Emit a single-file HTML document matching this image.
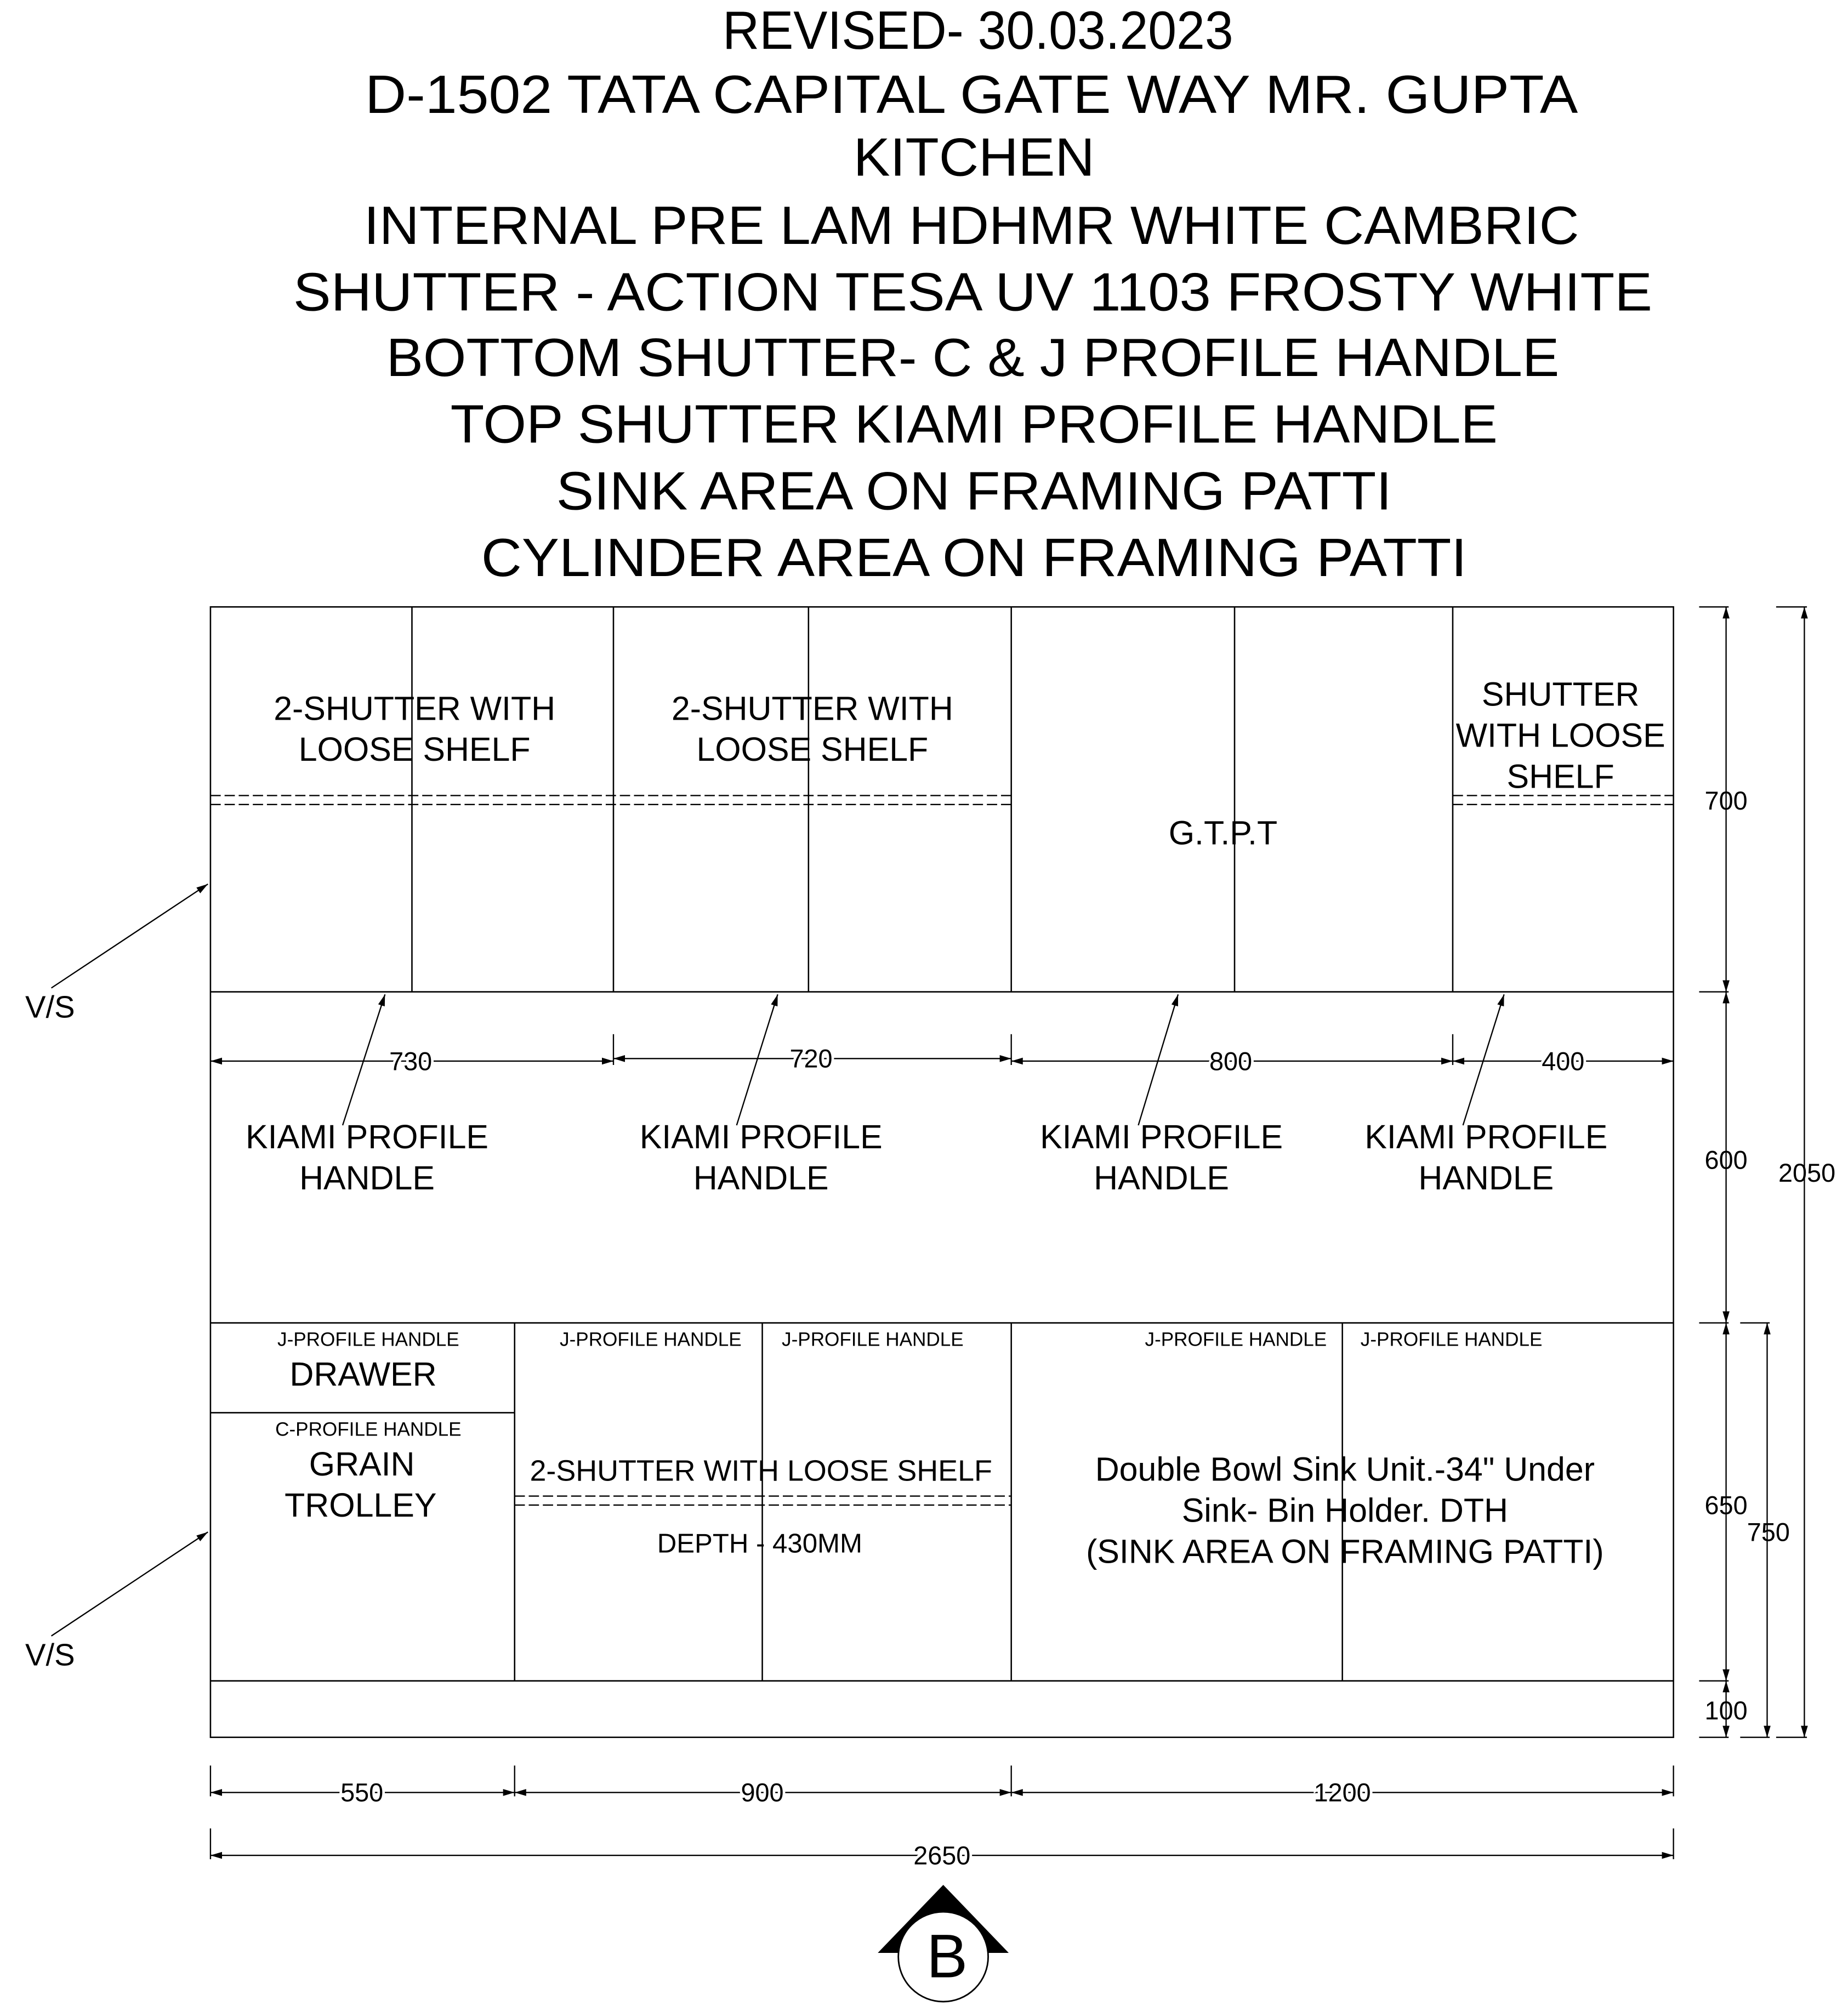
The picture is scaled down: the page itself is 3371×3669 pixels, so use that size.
<!DOCTYPE html>
<html><head><meta charset="utf-8"><style>
html,body{margin:0;padding:0;background:#fff;}
svg{display:block;}
text{font-family:"Liberation Sans",Arial,sans-serif;fill:#000;}
</style></head><body>
<svg width="3371" height="3669" viewBox="0 0 1440 1567.3" preserveAspectRatio="none" xmlns="http://www.w3.org/2000/svg">
<defs>
<marker id="a" viewBox="0 0 10 10" refX="10" refY="5" markerWidth="9" markerHeight="9" markerUnits="userSpaceOnUse" orient="auto-start-reverse"><path d="M0,2 L10,5 L0,8 z" fill="#000"/></marker>
</defs>
<rect width="1440" height="1567.3" fill="#fff"/>
<g font-size="42" text-anchor="middle" lengthAdjust="spacingAndGlyphs">
<text x="762" y="38" textLength="398" lengthAdjust="spacingAndGlyphs">REVISED- 30.03.2023</text>
<text x="757" y="88" textLength="945" lengthAdjust="spacingAndGlyphs">D-1502 TATA CAPITAL GATE WAY MR. GUPTA</text>
<text x="759" y="137" textLength="188" lengthAdjust="spacingAndGlyphs">KITCHEN</text>
<text x="757" y="190" textLength="947" lengthAdjust="spacingAndGlyphs">INTERNAL PRE LAM HDHMR WHITE CAMBRIC</text>
<text x="758" y="242" textLength="1059" lengthAdjust="spacingAndGlyphs">SHUTTER - ACTION TESA UV  1103 FROSTY WHITE</text>
<text x="758" y="293" textLength="914" lengthAdjust="spacingAndGlyphs">BOTTOM SHUTTER- C &amp; J PROFILE HANDLE</text>
<text x="759" y="345" textLength="816" lengthAdjust="spacingAndGlyphs">TOP SHUTTER KIAMI PROFILE HANDLE</text>
<text x="759" y="397" textLength="651" lengthAdjust="spacingAndGlyphs">SINK AREA ON FRAMING PATTI</text>
<text x="759" y="449" textLength="768" lengthAdjust="spacingAndGlyphs">CYLINDER AREA ON FRAMING PATTI</text>
</g>
<g stroke="#000" stroke-width="1.1" fill="none">
<rect x="164" y="473" width="1140" height="881"/>
<line x1="164" y1="773" x2="1304" y2="773"/>
<line x1="164" y1="1031" x2="1304" y2="1031"/>
<line x1="164" y1="1310" x2="1304" y2="1310"/>
<line x1="321" y1="473" x2="321" y2="773"/>
<line x1="478" y1="473" x2="478" y2="773"/>
<line x1="630" y1="473" x2="630" y2="773"/>
<line x1="788" y1="473" x2="788" y2="773"/>
<line x1="962" y1="473" x2="962" y2="773"/>
<line x1="1132" y1="473" x2="1132" y2="773"/>
<line x1="401" y1="1031" x2="401" y2="1310"/>
<line x1="594" y1="1031" x2="594" y2="1310"/>
<line x1="788" y1="1031" x2="788" y2="1310"/>
<line x1="1046" y1="1031" x2="1046" y2="1310"/>
<line x1="164" y1="1101" x2="401" y2="1101"/>
</g>
<g stroke="#000" stroke-width="1" stroke-dasharray="8,3">
<line x1="164" y1="620" x2="788" y2="620"/>
<line x1="164" y1="627" x2="788" y2="627"/>
<line x1="1132" y1="620" x2="1304" y2="620"/>
<line x1="1132" y1="627" x2="1304" y2="627"/>
<line x1="401" y1="1166" x2="788" y2="1166"/>
<line x1="401" y1="1173" x2="788" y2="1173"/>
</g>
<g font-size="26" text-anchor="middle">
<text x="323" y="561">2-SHUTTER WITH</text>
<text x="323" y="593">LOOSE SHELF</text>
<text x="633" y="561">2-SHUTTER WITH</text>
<text x="633" y="593">LOOSE SHELF</text>
<text x="1216" y="550">SHUTTER</text>
<text x="1216" y="582">WITH LOOSE</text>
<text x="1216" y="614">SHELF</text>
<text x="953" y="658">G.T.P.T</text>
<text x="286" y="895">KIAMI PROFILE</text>
<text x="286" y="927">HANDLE</text>
<text x="593" y="895">KIAMI PROFILE</text>
<text x="593" y="927">HANDLE</text>
<text x="905" y="895">KIAMI PROFILE</text>
<text x="905" y="927">HANDLE</text>
<text x="1158" y="895">KIAMI PROFILE</text>
<text x="1158" y="927">HANDLE</text>
<text x="283" y="1080">DRAWER</text>
<text x="282" y="1150">GRAIN</text>
<text x="281" y="1182">TROLLEY</text>
<text x="593" y="1154" font-size="23">2-SHUTTER WITH LOOSE SHELF</text>
<text x="592" y="1210" font-size="21">DEPTH - 430MM</text>
<text x="1048" y="1154">Double Bowl Sink Unit.-34" Under</text>
<text x="1048" y="1186">Sink- Bin Holder. DTH</text>
<text x="1048" y="1218">(SINK AREA ON FRAMING PATTI)</text>
<text x="39" y="793" font-size="24">V/S</text>
<text x="39" y="1298" font-size="24">V/S</text>
</g>
<g font-size="15" text-anchor="middle">
<text x="287" y="1049">J-PROFILE HANDLE</text>
<text x="507" y="1049">J-PROFILE HANDLE</text>
<text x="680" y="1049">J-PROFILE HANDLE</text>
<text x="963" y="1049">J-PROFILE HANDLE</text>
<text x="1131" y="1049">J-PROFILE HANDLE</text>
<text x="287" y="1119">C-PROFILE HANDLE</text>
</g>
<g stroke="#000" stroke-width="1" fill="none">
<!-- leaders -->
<line x1="267" y1="877" x2="300" y2="775" marker-end="url(#a)"/>
<line x1="574" y1="877" x2="606" y2="775" marker-end="url(#a)"/>
<line x1="887" y1="877" x2="918" y2="775" marker-end="url(#a)"/>
<line x1="1140" y1="877" x2="1172" y2="775" marker-end="url(#a)"/>
<line x1="40" y1="770" x2="162" y2="689" marker-end="url(#a)"/>
<line x1="40" y1="1275" x2="162" y2="1194" marker-end="url(#a)"/>
<!-- top dims -->
<line x1="164" y1="827" x2="478" y2="827" marker-start="url(#a)" marker-end="url(#a)"/>
<line x1="478" y1="825" x2="788" y2="825" marker-start="url(#a)" marker-end="url(#a)"/>
<line x1="788" y1="827" x2="1132" y2="827" marker-start="url(#a)" marker-end="url(#a)"/>
<line x1="1132" y1="827" x2="1304" y2="827" marker-start="url(#a)" marker-end="url(#a)"/>
<line x1="478" y1="806" x2="478" y2="830"/>
<line x1="788" y1="806" x2="788" y2="830"/>
<line x1="1132" y1="806" x2="1132" y2="830"/>
<!-- right dims -->
<line x1="1345" y1="473" x2="1345" y2="773" marker-start="url(#a)" marker-end="url(#a)"/>
<line x1="1345" y1="773" x2="1345" y2="1031" marker-start="url(#a)" marker-end="url(#a)"/>
<line x1="1345" y1="1031" x2="1345" y2="1310" marker-start="url(#a)" marker-end="url(#a)"/>
<line x1="1345" y1="1310" x2="1345" y2="1354" marker-start="url(#a)" marker-end="url(#a)"/>
<line x1="1324" y1="473" x2="1347" y2="473"/>
<line x1="1324" y1="773" x2="1347" y2="773"/>
<line x1="1324" y1="1031" x2="1347" y2="1031"/>
<line x1="1324" y1="1310" x2="1347" y2="1310"/>
<line x1="1324" y1="1354" x2="1347" y2="1354"/>
<line x1="1377" y1="1031" x2="1377" y2="1354" marker-start="url(#a)" marker-end="url(#a)"/>
<line x1="1356" y1="1031" x2="1379" y2="1031"/>
<line x1="1356" y1="1354" x2="1379" y2="1354"/>
<line x1="1406" y1="473" x2="1406" y2="1354" marker-start="url(#a)" marker-end="url(#a)"/>
<line x1="1384" y1="473" x2="1408" y2="473"/>
<line x1="1384" y1="1354" x2="1408" y2="1354"/>
<!-- bottom dims -->
<line x1="164" y1="1397" x2="401" y2="1397" marker-start="url(#a)" marker-end="url(#a)"/>
<line x1="401" y1="1397" x2="788" y2="1397" marker-start="url(#a)" marker-end="url(#a)"/>
<line x1="788" y1="1397" x2="1304" y2="1397" marker-start="url(#a)" marker-end="url(#a)"/>
<line x1="164" y1="1376" x2="164" y2="1400"/>
<line x1="401" y1="1376" x2="401" y2="1400"/>
<line x1="788" y1="1376" x2="788" y2="1400"/>
<line x1="1304" y1="1376" x2="1304" y2="1400"/>
<line x1="164" y1="1446" x2="1304" y2="1446" marker-start="url(#a)" marker-end="url(#a)"/>
<line x1="164" y1="1425" x2="164" y2="1449"/>
<line x1="1304" y1="1425" x2="1304" y2="1449"/>
</g>
<g font-size="20" text-anchor="middle">
<text x="320" y="834" paint-order="stroke" stroke="#fff" stroke-width="4">730</text>
<text x="632" y="832" paint-order="stroke" stroke="#fff" stroke-width="4">720</text>
<text x="959" y="834" paint-order="stroke" stroke="#fff" stroke-width="4">800</text>
<text x="1218" y="834" paint-order="stroke" stroke="#fff" stroke-width="4">400</text>
<text x="1345" y="631">700</text>
<text x="1345" y="911">600</text>
<text x="1345" y="1180">650</text>
<text x="1345" y="1340">100</text>
<text x="1378" y="1201">750</text>
<text x="1408" y="921">2050</text>
<text x="282" y="1404" paint-order="stroke" stroke="#fff" stroke-width="4">550</text>
<text x="594" y="1404" paint-order="stroke" stroke="#fff" stroke-width="4">900</text>
<text x="1046" y="1404" paint-order="stroke" stroke="#fff" stroke-width="4">1200</text>
<text x="734" y="1453" paint-order="stroke" stroke="#fff" stroke-width="4">2650</text>
</g>
<polygon points="735,1469 786,1522 684,1522" fill="#000"/>
<circle cx="735" cy="1525" r="35" fill="#fff" stroke="#000" stroke-width="1.2"/>
<text x="738" y="1541" font-size="48" text-anchor="middle">B</text>
</svg>
</body></html>
